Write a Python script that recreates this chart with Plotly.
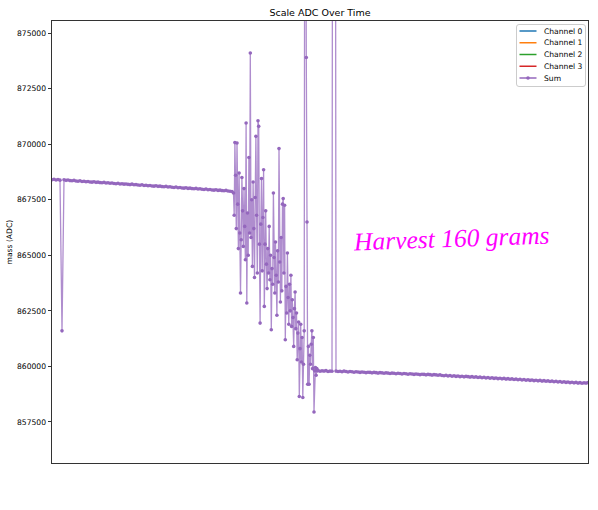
import numpy as np
import plotly.graph_objects as go

# ---------------- data ----------------
# Sample time in minutes. Regular sampling before and after harvest,
# faster sampling during the harvest itself.
before_mass = [
    868400, 868420, 868390, 868410, 868380, 861600, 868395, 868370, 868390, 868360,
    868350, 868370, 868340, 868330, 868350, 868320, 868330, 868310, 868320, 868300,
    868290, 868310, 868280, 868290, 868270, 868260, 868280, 868250, 868260, 868240,
    868250, 868230, 868220, 868240, 868210, 868220, 868200, 868210, 868190, 868180,
    868200, 868170, 868180, 868160, 868150, 868170, 868140, 868150, 868130, 868140,
    868120, 868110, 868130, 868100, 868110, 868090, 868080, 868100, 868070, 868080,
    868060, 868050, 868070, 868040, 868050, 868030, 868020, 868040, 868010, 868020,
    868000, 867990, 868010, 867980, 867990, 867970, 867960, 867980, 867950, 867960,
    867940, 867930, 867950, 867920, 867930, 867910, 867900, 867920, 867890, 867880,
    867870,
]
before_start, before_interval = 0.0, 2.0

harvest_mass = [
    867800, 866800, 870070, 868600, 866200, 870050, 867300, 865300, 868700, 866000,
    863300, 865700, 868500, 867000, 865400, 868000, 866300, 864800, 870950, 862850,
    866900, 865000, 869400, 866000, 874100, 865800, 867500, 864500, 868300, 866200,
    864000, 867600, 870350, 866800, 864200, 871050, 870800, 865500, 861950, 866400,
    868450, 864300, 866700, 868850, 862700, 865500, 867000, 864600, 863500, 865300,
    864200, 866300, 863900, 865000, 861650, 864400, 863700, 867800, 864900, 863300,
    865600, 864100, 862300, 865200, 863800, 869800, 864700, 862900, 865800, 863400,
    867300, 867550, 864200, 867250, 861200, 863600, 862400, 865100, 863100, 861900,
    863700, 862500, 864100, 861800, 863000, 862200, 860900, 862600, 863350, 861700,
    862400, 860300, 861500, 862000, 858650, 860800, 861900, 860200, 861300, 858600,
    860100, 861600, 890000, 885000, 873900, 866500, 859200, 860900, 859200, 860500,
    860100, 861000, 861600, 859900, 861300, 857950, 859800, 859950, 859600, 859900,
    859800,
]
harvest_start, harvest_interval = 181.5, 0.7

after_mass = [
    859820, 859780, 859800, 859790, 859810, 859770, 859790, 859780, 950000, 859790,
    859770, 859780, 859760, 859790, 859770, 859750, 859770, 859760, 859740, 859760,
    859750, 859730, 859750, 859740, 859720, 859740, 859730, 859710, 859730, 859720,
    859700, 859720, 859710, 859690, 859710, 859700, 859680, 859700, 859690, 859670,
    859690, 859680, 859660, 859680, 859670, 859650, 859670, 859660, 859640, 859660,
    859650, 859630, 859650, 859640, 859620, 859640, 859630, 859610, 859630, 859620,
    859600, 859620, 859590, 859580, 859600, 859570, 859590, 859560, 859580, 859550,
    859570, 859540, 859560, 859530, 859550, 859540, 859520, 859540, 859510, 859530,
    859500, 859520, 859490, 859510, 859480, 859500, 859470, 859490, 859460, 859480,
    859450, 859470, 859440, 859460, 859430, 859450, 859420, 859440, 859410, 859430,
    859400, 859420, 859390, 859410, 859380, 859400, 859370, 859390, 859360, 859380,
    859350, 859370, 859340, 859360, 859330, 859350, 859320, 859340, 859310, 859330,
    859300, 859320, 859290, 859310, 859280, 859300, 859270, 859290, 859260, 859280,
    859250, 859270, 859240, 859260, 859250, 859270,
]
after_start, after_interval = 266.0, 2.0

legend_names = ["Channel 0", "Channel 1", "Channel 2", "Channel 3", "Sum"]
y_ticks = [857500, 860000, 862500, 865000, 867500, 870000, 872500, 875000]
annotation_text = "Harvest 160 grams"

# ---------------- build series ----------------
t_before = before_start + before_interval * np.arange(len(before_mass))
t_harvest = harvest_start + harvest_interval * np.arange(len(harvest_mass))
t_after = after_start + after_interval * np.arange(len(after_mass))
time = np.concatenate([t_before, t_harvest, t_after])
mass = np.concatenate([before_mass, harvest_mass, after_mass])

legend_colors = ["#1f77b4", "#ff7f0e", "#2ca02c", "#d62728", "#9467bd"]
sum_color = "#9467bd"

W, H = 598, 510
L, R, T, B = 52, 10, 21, 47
PW, PH = W - L - R, H - T - B


def px(x):
    return (x - L) / PW


def py(y):
    return (H - B - y) / PH


fig = go.Figure()
fig.add_trace(go.Scatter(
    x=time, y=mass, mode="lines+markers", name="Sum",
    line=dict(color="rgba(148,103,189,0.75)", width=1.3),
    marker=dict(color=sum_color, size=3.6, line=dict(width=0)),
    showlegend=False,
))

shapes = []
annotations = []

# custom compact legend (matplotlib style)
lx0, lx1, ly0, ly1, rad = 516.5, 585.5, 24.5, 86.5, 2.5
rx, ry = rad / PW, rad / PH
X0, X1, Y0, Y1 = px(lx0), px(lx1), py(ly1), py(ly0)
path = (f"M{X0+rx},{Y0} L{X1-rx},{Y0} Q{X1},{Y0} {X1},{Y0+ry} "
        f"L{X1},{Y1-ry} Q{X1},{Y1} {X1-rx},{Y1} L{X0+rx},{Y1} "
        f"Q{X0},{Y1} {X0},{Y1-ry} L{X0},{Y0+ry} Q{X0},{Y0} {X0+rx},{Y0} Z")
shapes.append(dict(type="path", xref="paper", yref="paper", path=path,
                   fillcolor="rgba(255,255,255,0.8)",
                   line=dict(color="#cccccc", width=1), layer="above"))
row0, row_step = 31.0, 11.75
for i, (name, col) in enumerate(zip(legend_names, legend_colors)):
    yy = py(row0 + i * row_step)
    shapes.append(dict(type="line", xref="paper", yref="paper",
                       x0=px(519.5), x1=px(536.5), y0=yy, y1=yy,
                       line=dict(color=col, width=1.5), layer="above"))
    if name == "Sum":
        shapes.append(dict(type="circle", xref="paper", yref="paper",
                           x0=px(526.2), x1=px(529.8), y0=yy - 1.8 / PH, y1=yy + 1.8 / PH,
                           fillcolor=col, line=dict(width=0), layer="above"))
    annotations.append(dict(x=px(541.5), y=yy, xref="paper", yref="paper",
                            text=name, showarrow=False, xanchor="left", yanchor="middle",
                            font=dict(family="DejaVu Sans", size=7.6, color="#000")))

# y-axis title
annotations.append(dict(x=px(8.5), y=py(242), xref="paper", yref="paper",
                        text="mass (ADC)", showarrow=False, textangle=-90,
                        xanchor="center", yanchor="middle",
                        font=dict(family="DejaVu Sans", size=7.6, color="#000")))

# handwritten note
annotations.append(dict(
    x=px(451), y=py(238), xref="paper", yref="paper",
    text=annotation_text, showarrow=False, xanchor="center", yanchor="middle",
    font=dict(family="Liberation Serif", size=25.5, color="#ff00ff", style="italic"),
    textangle=-2,
))

fig.update_layout(
    width=W, height=H,
    margin=dict(l=L, r=R, t=T, b=B, autoexpand=False),
    paper_bgcolor="white", plot_bgcolor="white",
    font=dict(family="DejaVu Sans", size=7.6, color="#000"),
    title=dict(text="Scale ADC Over Time", x=0.5, xref="paper", xanchor="center",
               y=1 - 12.5 / H, yanchor="middle",
               font=dict(family="DejaVu Sans", size=9.5, color="#000")),
    showlegend=False,
    shapes=shapes,
    annotations=annotations,
)
fig.update_xaxes(
    range=[0, 536], showticklabels=False, ticks="", showgrid=False, zeroline=False,
    showline=True, linecolor="#333", linewidth=1, mirror=True, automargin=False,
)
fig.update_yaxes(
    range=[855655, 875540], tickvals=y_ticks, ticktext=[str(v) for v in y_ticks],
    ticks="outside", ticklen=3.5, tickcolor="#333", tickwidth=1,
    showgrid=False, zeroline=False, automargin=False,
    showline=True, linecolor="#333", linewidth=1, mirror=True,
    tickfont=dict(family="DejaVu Sans", size=7.6, color="#000"),
)

fig.write_html("out.html")
